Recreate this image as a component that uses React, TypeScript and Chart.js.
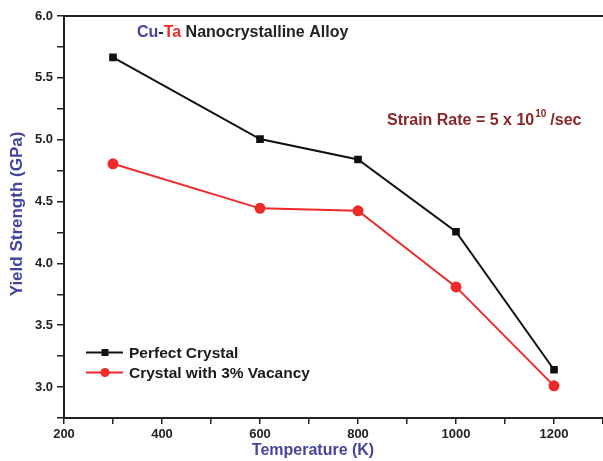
import React, { useEffect, useRef } from "react";
import { Chart, registerables } from "chart.js";
Chart.register(...registerables);

const temperatures = [300, 600, 800, 1000, 1200];
const perfectCrystal = [5.665, 5.005, 4.84, 4.256, 3.14];
const vacancyCrystal = [4.805, 4.445, 4.425, 3.81, 3.01];
const seriesNames = ["Perfect Crystal", "Crystal with 3% Vacancy"];
const xTickLabels = [200, 400, 600, 800, 1000, 1200];
const yTickLabels = [3.0, 3.5, 4.0, 4.5, 5.0, 5.5, 6.0];

const FONT = "'Liberation Sans', Arial, sans-serif";
const BLUE = "#45459e";
const RED = "#ee2a2a";
const DARKRED = "#8a2626";

const overlay = {
  id: "overlay",
  afterDraw(chart: any) {
    const ctx = chart.ctx;
    const a = chart.chartArea;
    const xs = chart.scales.x;
    ctx.save();
    // top border
    ctx.strokeStyle = "#222";
    ctx.lineWidth = 2;
    ctx.beginPath();
    ctx.moveTo(a.left, a.top);
    ctx.lineTo(a.right, a.top);
    ctx.stroke();

    ctx.textBaseline = "alphabetic";
    ctx.textAlign = "left";
    // title
    ctx.font = `bold 16px ${FONT}`;
    let x = 137;
    const ty = 37;
    const parts: [string, string][] = [["Cu", BLUE], ["-", "#222"], ["Ta", RED], [" Nanocrystalline Alloy", "#222"]];
    for (const [t, c] of parts) {
      ctx.fillStyle = c;
      ctx.fillText(t, x, ty);
      x += ctx.measureText(t).width;
    }
    // strain rate
    ctx.fillStyle = DARKRED;
    ctx.font = `bold 16px ${FONT}`;
    let sx = 387;
    const sy = 125;
    const s1 = "Strain Rate = 5 x 10";
    ctx.fillText(s1, sx, sy);
    sx += ctx.measureText(s1).width;
    ctx.font = `bold 10px ${FONT}`;
    ctx.fillText("10", sx + 1, sy - 8);
    sx += ctx.measureText("10").width + 5;
    ctx.font = `bold 16px ${FONT}`;
    ctx.fillText("/sec", sx, sy);

    // legend
    const leg = [
      { name: seriesNames[0], color: "#111", square: true, y: 352.5 },
      { name: seriesNames[1], color: RED, square: false, y: 372.5 },
    ];
    for (const l of leg) {
      ctx.strokeStyle = l.color;
      ctx.fillStyle = l.color;
      ctx.lineWidth = 2;
      ctx.beginPath();
      ctx.moveTo(86, l.y);
      ctx.lineTo(123, l.y);
      ctx.stroke();
      if (l.square) ctx.fillRect(101.5, l.y - 3.5, 7, 7);
      else {
        ctx.beginPath();
        ctx.arc(105, l.y, 4.5, 0, Math.PI * 2);
        ctx.fill();
      }
      ctx.fillStyle = "#1a1a1a";
      ctx.font = `bold 15.5px ${FONT}`;
      ctx.textBaseline = "middle";
      ctx.fillText(l.name, 129, l.y + 1);
      ctx.textBaseline = "alphabetic";
    }

    // axis titles
    ctx.fillStyle = BLUE;
    ctx.font = `bold 16px ${FONT}`;
    ctx.textAlign = "center";
    ctx.fillText("Temperature (K)", (xs.getPixelForValue(200) + xs.getPixelForValue(1200)) / 2 + 4, 455);
    ctx.save();
    ctx.translate(22, (a.top + a.bottom) / 2 - 3);
    ctx.rotate(-Math.PI / 2);
    ctx.font = `bold 17px ${FONT}`;
    ctx.fillText("Yield Strength (GPa)", 0, 0);
    ctx.restore();
    ctx.restore();
  },
};

export default function App() {
  const ref = useRef<HTMLCanvasElement>(null);
  useEffect(() => {
    document.body.style.margin = "0";
    const chart = new Chart(ref.current!, {
      type: "line",
      data: {
        labels: temperatures,
        datasets: [
          {
            label: seriesNames[0],
            data: temperatures.map((t, i) => ({ x: t, y: perfectCrystal[i] })),
            borderColor: "#111",
            backgroundColor: "#111",
            borderWidth: 2,
            pointStyle: "rect",
            pointRadius: 4,
            tension: 0,
          },
          {
            label: seriesNames[1],
            data: temperatures.map((t, i) => ({ x: t, y: vacancyCrystal[i] })),
            borderColor: RED,
            backgroundColor: RED,
            borderWidth: 2,
            pointStyle: "circle",
            pointRadius: 4.5,
            tension: 0,
          },
        ],
      },
      options: {
        animation: false,
        responsive: true,
        maintainAspectRatio: false,
        layout: { autoPadding: false, padding: { top: 16, right: 0, left: 0, bottom: 0 } },
        plugins: { legend: { display: false }, tooltip: { enabled: false } },
        scales: {
          x: {
            type: "linear",
            min: 200,
            max: 1300,
            grid: { drawOnChartArea: false, tickLength: 6, color: "#222", lineWidth: 1.5 },
            border: { color: "#222", width: 2 },
            ticks: {
              stepSize: 100,
              maxRotation: 0,
              autoSkip: false,
              padding: 3,
              color: "#222",
              font: { family: FONT, weight: "bold", size: 13 },
              callback: (v: any) => (xTickLabels.includes(v) ? String(v) : ""),
            },
            afterFit: (s: any) => {
              s.height = 43;
              s.paddingLeft = 0;
              s.paddingRight = 0;
            },
          },
          y: {
            min: 2.75,
            max: 6.0,
            grid: { drawOnChartArea: false, tickLength: 7, color: "#222", lineWidth: 1.5 },
            border: { color: "#222", width: 2 },
            ticks: {
              stepSize: 0.25,
              autoSkip: false,
              padding: 4,
              color: "#222",
              font: { family: FONT, weight: "bold", size: 13 },
              callback: (v: any) => {
                const m = yTickLabels.find((t) => Math.abs(t - v) < 1e-6);
                return m !== undefined ? m.toFixed(1) : "";
              },
            },
            afterFit: (s: any) => {
              s.width = 64;
              s.paddingTop = 0;
              s.paddingBottom = 0;
            },
          },
        },
      },
      plugins: [overlay],
    });
    return () => chart.destroy();
  }, []);
  return (
    <div style={{ position: "fixed", left: 0, top: 0, width: 603, height: 461 }}>
      <canvas ref={ref} />
    </div>
  );
}
